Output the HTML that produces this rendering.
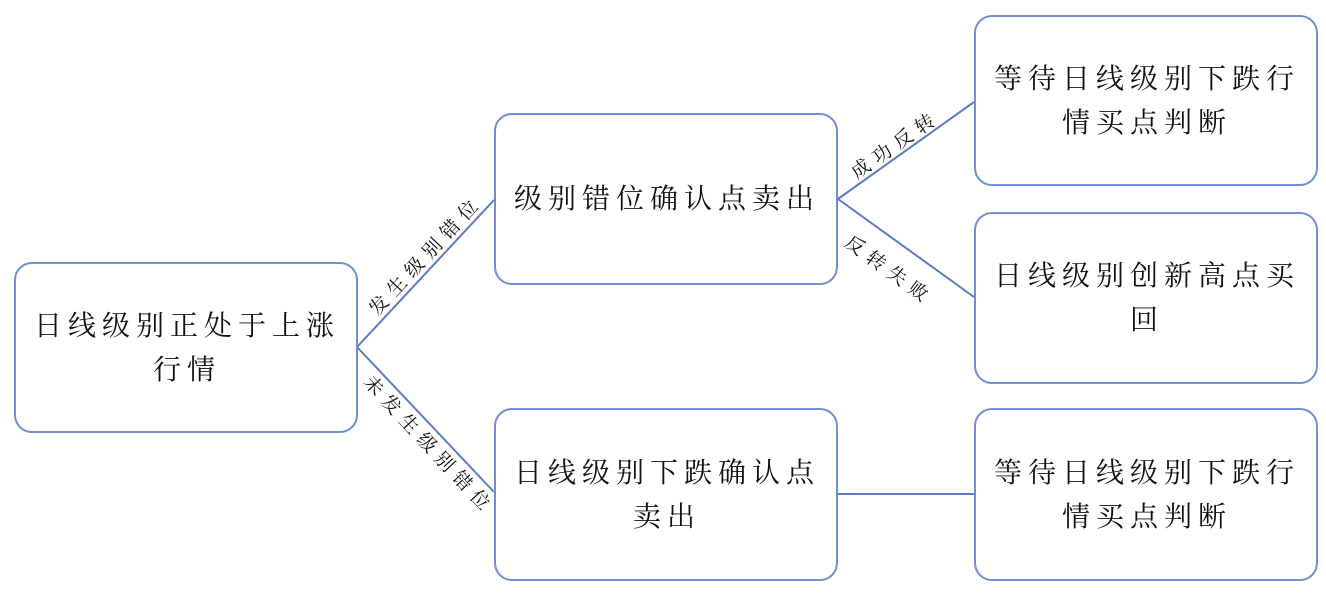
<!DOCTYPE html>
<html><head><meta charset="utf-8"><style>
body{margin:0;width:1326px;height:597px;background:#fff;position:relative;overflow:hidden;font-family:"Liberation Sans","Noto Serif CJK SC","Noto Sans CJK SC",serif;color:#111}
.b{position:absolute;box-sizing:border-box;border:2px solid #6f8fd0;border-radius:18px;display:flex;align-items:center;justify-content:center;text-align:center;font-size:28px;line-height:44px;letter-spacing:6px;padding:0 0 0 2px;white-space:nowrap}
.l{position:absolute;font-size:19px;letter-spacing:7px;white-space:nowrap;transform-origin:center;text-align:center}
</style></head><body>
<svg width="1326" height="597" style="position:absolute;left:0;top:0">
<g stroke="#5b7bc4" stroke-width="2" fill="none">
<line x1="357" y1="347" x2="494" y2="200"/>
<line x1="357" y1="347" x2="494" y2="492"/>
<line x1="838" y1="199" x2="974" y2="102"/>
<line x1="838" y1="199" x2="974" y2="297"/>
<line x1="838" y1="494" x2="974" y2="494"/>
</g></svg>
<div class="b" style="left:14px;top:262px;width:344px;height:171px">日线级别正处于上涨<br>行情</div>
<div class="b" style="left:494px;top:113px;width:344px;height:172px">级别错位确认点卖出</div>
<div class="b" style="left:494px;top:408px;width:344px;height:173px">日线级别下跌确认点<br>卖出</div>
<div class="b" style="left:974px;top:15px;width:344px;height:171px">等待日线级别下跌行<br>情买点判断</div>
<div class="b" style="left:974px;top:212px;width:344px;height:172px">日线级别创新高点买<br>回</div>
<div class="b" style="left:974px;top:408px;width:344px;height:173px">等待日线级别下跌行<br>情买点判断</div>
<div class="l" style="left:335px;top:241px;width:180px;transform:rotate(-47deg)">发生级别错位</div>
<div class="l" style="left:330px;top:431px;width:200px;transform:rotate(47deg)">未发生级别错位</div>
<div class="l" style="left:840px;top:130px;width:110px;transform:rotate(-35deg)">成功反转</div>
<div class="l" style="left:835px;top:256px;width:110px;transform:rotate(36deg)">反转失败</div>
</body></html>
